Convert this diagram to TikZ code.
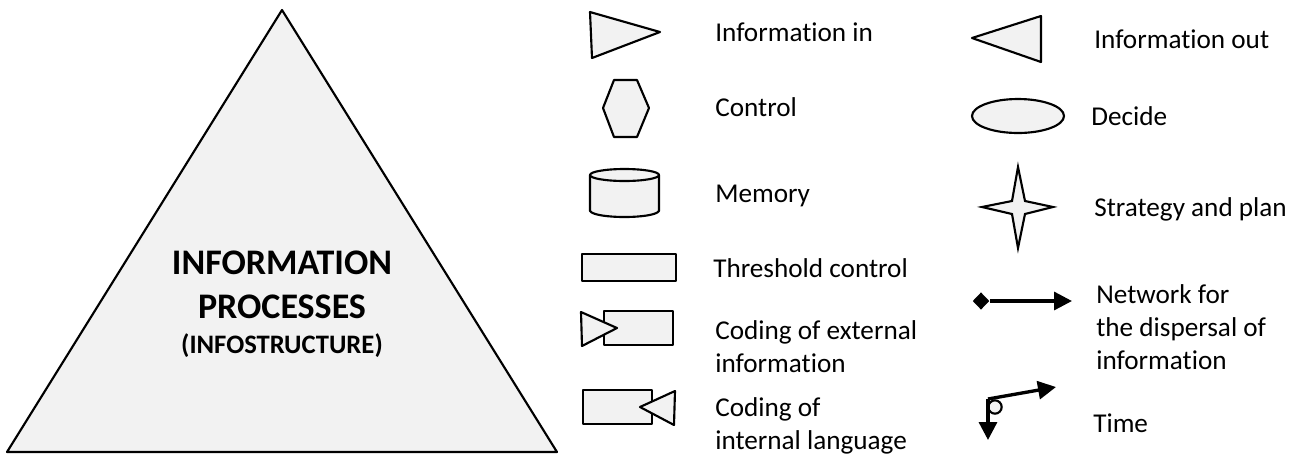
\documentclass[tikz,border=0pt]{standalone}
\usepackage{fontspec}
\setmainfont[Ligatures=CommonOff]{Carlito}
\usetikzlibrary{arrows.meta,shapes.geometric}
\definecolor{shape}{HTML}{F2F2F2}
\tikzset{
  sym/.style={draw=black,fill=shape,line width=1.6pt,line join=round},
  lab/.style={anchor=west,align=left,inner sep=0pt,font=\fontsize{20.4pt}{24.75pt}\selectfont},
  conn/.style={draw=black,line width=2.5pt},
  head/.style={-{Triangle[length=13.5pt,width=13.5pt]}}
}
\begin{document}
\begin{tikzpicture}[x=0.75pt,y=-0.75pt]
\useasboundingbox (0,0) rectangle (1297,455);
% large triangle
\draw[sym] (282,10) -- (7,452) -- (557,452) -- cycle;
\node[align=center,inner sep=0pt,font=\fontsize{27pt}{33pt}\selectfont\bfseries] (title) at (282,304) {INFORMATION\\PROCESSES\\[-7pt]\fontsize{20pt}{26pt}\selectfont (INFOSTRUCTURE)};
% left column symbols
\draw[sym] (590,12) -- (592,58) -- (660,32) -- cycle;
\draw[sym] (603,108) -- (614,80) -- (637,80) -- (649,108) -- (637,137) -- (614,137) -- cycle;
\draw[sym] (590,175) -- (590,211) .. controls (595,219) and (654,219) .. (659,211) -- (659,175) -- cycle;
\draw[sym] (624.5,175) ellipse [x radius=34.5,y radius=6];
\draw[sym] (582,254) rectangle (676,281);
\draw[sym] (604,311) rectangle (673,345);
\draw[sym] (581,312) -- (582,346) -- (617,328) -- cycle;
\draw[sym] (583,390) rectangle (652,424);
\draw[sym] (675,391) -- (674,425) -- (640,407) -- cycle;
% right column symbols
\draw[sym] (1041,16) -- (1041,62) -- (972,38) -- cycle;
\draw[sym] (1018,116) ellipse [x radius=46,y radius=17];
\draw[sym,line join=miter,miter limit=10] (1018,167) -- (1025,201) -- (1053,207) -- (1025,214) -- (1018,248) -- (1012,214) -- (982,207) -- (1012,201) -- cycle;
% network connector
\node[diamond,fill=black,minimum width=12.5pt,minimum height=13pt,inner sep=0pt] (src) at (981,301) {};
\coordinate (netend) at (1072,301);
\draw[conn,head] (src) -- (netend);
% time connector
\coordinate (corner) at (988,399);
\coordinate (timeA) at (1056,387);
\coordinate (timeB) at (988,440);
\node[circle,draw=black,fill=shape,line width=1.6pt,minimum size=10pt,inner sep=0pt] (clock) at (995,407) {};
\draw[conn,head] (corner) -- (timeA);
\draw[conn,head] (corner) -- (timeB);
% labels
\node[lab] (l1) at (715,32) {Information in};
\node[lab] (l2) at (715,107) {Control};
\node[lab] (l3) at (715,196) {Memory};
\node[lab] (l4) at (713,268) {Threshold control};
\node[lab] (l5) at (715,347) {Coding of external\\information};
\node[lab] (l6) at (715,426) {Coding of\\internal language};
\node[lab] (r1) at (1094,39) {Information out};
\node[lab] (r2) at (1091,116) {Decide};
\node[lab] (r3) at (1094,209) {Strategy and plan};
\node[lab] (r4) at (1096,327) {Network for\\the dispersal of\\information};
\node[lab] (r5) at (1093,423) {Time};
\end{tikzpicture}
\end{document}
